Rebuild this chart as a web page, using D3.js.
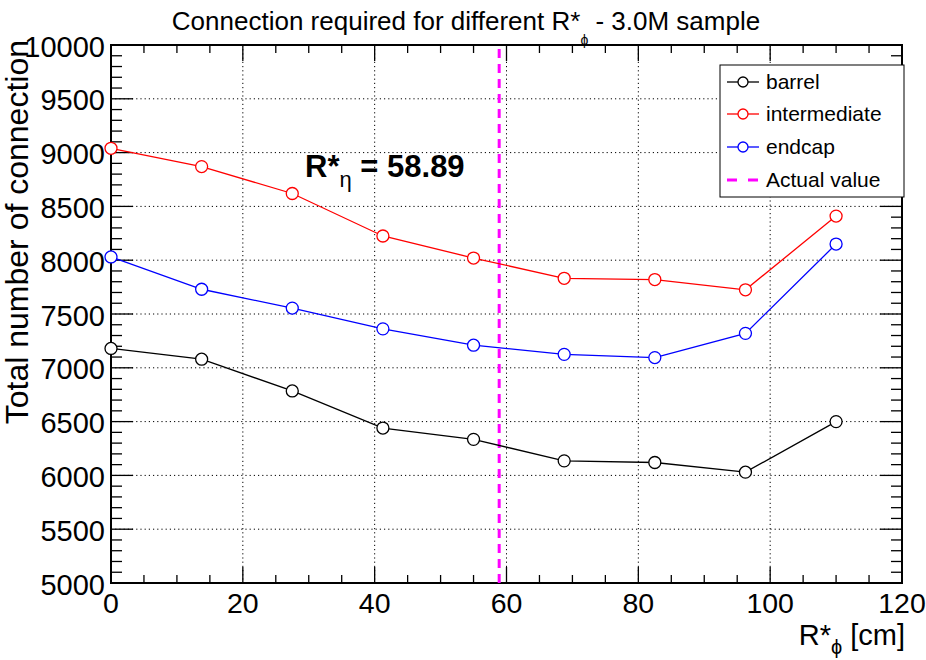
<!DOCTYPE html>
<html>
<head>
<meta charset="utf-8">
<script src="https://cdn.jsdelivr.net/npm/d3@7/dist/d3.min.js"></script>
<style>
  html, body { margin: 0; padding: 0; background: #fff; }
  svg text { font-family: "Liberation Sans", Arial, Helvetica, sans-serif; }
</style>
</head>
<body>
<svg id="chart" width="926" height="660"></svg>
<script>
// R*_phi values scanned (cm)
const rPhi = [0, 13.75, 27.5, 41.25, 55, 68.75, 82.5, 96.25, 110];
// Total number of connections per detector region
const barrel       = [7180, 7080, 6785, 6440, 6335, 6135, 6120, 6030, 6500];
const intermediate = [9040, 8870, 8620, 8225, 8020, 7832, 7820, 7725, 8410];
const endcap       = [8030, 7730, 7555, 7362, 7210, 7125, 7095, 7320, 8150];
const actualRPhi = 58.89;
const actualREta = "58.89";

const seriesNames  = ["barrel", "intermediate", "endcap"];
const seriesColors = ["#000000", "#ff0000", "#0000ff"];
const xTickValues = [0, 20, 40, 60, 80, 100, 120];
const yTickValues = [5000, 5500, 6000, 6500, 7000, 7500, 8000, 8500, 9000, 9500, 10000];

const svg = d3.select("#chart");
const padL = 111, padR = 902, padT = 45, padB = 583;

const x = d3.scaleLinear().domain([0, 120]).range([padL, padR]);
const y = d3.scaleLinear().domain([5000, 10000]).range([padB, padT]);

// grid
const grid = svg.append("g").attr("stroke", "#000").attr("stroke-width", 1)
  .attr("stroke-dasharray", "1.2,3");
xTickValues.slice(1, -1).forEach(v => {
  grid.append("line").attr("x1", x(v)).attr("x2", x(v)).attr("y1", padT).attr("y2", padB);
});
yTickValues.slice(1, -1).forEach(v => {
  grid.append("line").attr("x1", padL).attr("x2", padR).attr("y1", y(v)).attr("y2", y(v));
});

// ticks drawn inward on all four sides
const ticks = svg.append("g").attr("stroke", "#000").attr("stroke-width", 1.3);
d3.range(0, 120.001, 5).forEach(v => {
  const major = Math.abs(v % 20) < 1e-6;
  const len = major ? 16 : 8;
  ticks.append("line").attr("x1", x(v)).attr("x2", x(v)).attr("y1", padB).attr("y2", padB - len);
  ticks.append("line").attr("x1", x(v)).attr("x2", x(v)).attr("y1", padT).attr("y2", padT + len);
});
d3.range(5000, 10000.001, 100).forEach(v => {
  const major = Math.abs(v % 500) < 1e-6;
  const len = major ? 22 : 11;
  ticks.append("line").attr("x1", padL).attr("x2", padL + len).attr("y1", y(v)).attr("y2", y(v));
  ticks.append("line").attr("x1", padR).attr("x2", padR - len).attr("y1", y(v)).attr("y2", y(v));
});

// frame
svg.append("rect").attr("x", padL).attr("y", padT)
  .attr("width", padR - padL).attr("height", padB - padT)
  .attr("fill", "none").attr("stroke", "#000").attr("stroke-width", 2);

// tick labels
svg.append("g").selectAll("text").data(xTickValues).join("text")
  .attr("x", d => x(d)).attr("y", 613).attr("text-anchor", "middle")
  .attr("font-size", 28.5).text(d => d);
svg.append("g").selectAll("text").data(yTickValues).join("text")
  .attr("x", 105).attr("y", d => y(d) + 11.5).attr("text-anchor", "end")
  .attr("font-size", 29).text(d => d);

// actual value marker
svg.append("line").attr("x1", x(actualRPhi)).attr("x2", x(actualRPhi))
  .attr("y1", padB).attr("y2", padT)
  .attr("stroke", "#ff00ff").attr("stroke-width", 3).attr("stroke-dasharray", "9,6");

// series
const line = d3.line().x((d, i) => x(rPhi[i])).y(d => y(d));
[barrel, intermediate, endcap].forEach((vals, k) => {
  const g = svg.append("g");
  g.append("path").attr("d", line(vals)).attr("fill", "none")
    .attr("stroke", seriesColors[k]).attr("stroke-width", 1.3);
  g.selectAll("circle").data(vals).join("circle")
    .attr("cx", (d, i) => x(rPhi[i])).attr("cy", d => y(d)).attr("r", 6)
    .attr("fill", "#fff").attr("stroke", seriesColors[k]).attr("stroke-width", 1.3);
});

// annotation
const ann = svg.append("text").attr("x", 305).attr("y", 177)
  .attr("font-size", 31).attr("font-weight", "bold");
ann.append("tspan").text("R*");
ann.append("tspan").attr("dy", 10).attr("font-size", 22).attr("font-weight", "normal").text("η");
ann.append("tspan").attr("dy", -10).text(" = " + actualREta);

// legend
const lg = svg.append("g");
lg.append("rect").attr("x", 720).attr("y", 65).attr("width", 184).attr("height", 132)
  .attr("fill", "#fff").attr("stroke", "#000").attr("stroke-width", 1);
const rowY = [82, 114, 147, 180];
seriesNames.forEach((name, k) => {
  lg.append("line").attr("x1", 727).attr("x2", 759).attr("y1", rowY[k]).attr("y2", rowY[k])
    .attr("stroke", seriesColors[k]).attr("stroke-width", 1.3);
  lg.append("circle").attr("cx", 743).attr("cy", rowY[k]).attr("r", 5)
    .attr("fill", "#fff").attr("stroke", seriesColors[k]).attr("stroke-width", 1.3);
  lg.append("text").attr("x", 766).attr("y", rowY[k] + 7).attr("font-size", 21).text(name);
});
lg.append("line").attr("x1", 727).attr("x2", 759).attr("y1", rowY[3]).attr("y2", rowY[3])
  .attr("stroke", "#ff00ff").attr("stroke-width", 3).attr("stroke-dasharray", "10,11");
lg.append("text").attr("x", 766).attr("y", rowY[3] + 7).attr("font-size", 21).text("Actual value");

// title
const title = svg.append("text").attr("x", 466).attr("y", 30).attr("text-anchor", "middle")
  .attr("font-size", 26);
title.append("tspan").text("Connection required for different R*");
title.append("tspan").attr("dy", 15).attr("font-size", 14).text("ϕ");
title.append("tspan").attr("dy", -15).text("  - 3.0M sample");

// axis titles
const xt = svg.append("text").attr("x", 905).attr("y", 645).attr("text-anchor", "end")
  .attr("font-size", 29);
xt.append("tspan").text("R*");
xt.append("tspan").attr("dy", 9).attr("font-size", 20).text("ϕ");
xt.append("tspan").attr("dy", -9).text(" [cm]");

svg.append("text").attr("transform", "translate(28,40) rotate(-90)")
  .attr("text-anchor", "end").attr("font-size", 32).text("Total number of connection");
</script>
</body>
</html>
